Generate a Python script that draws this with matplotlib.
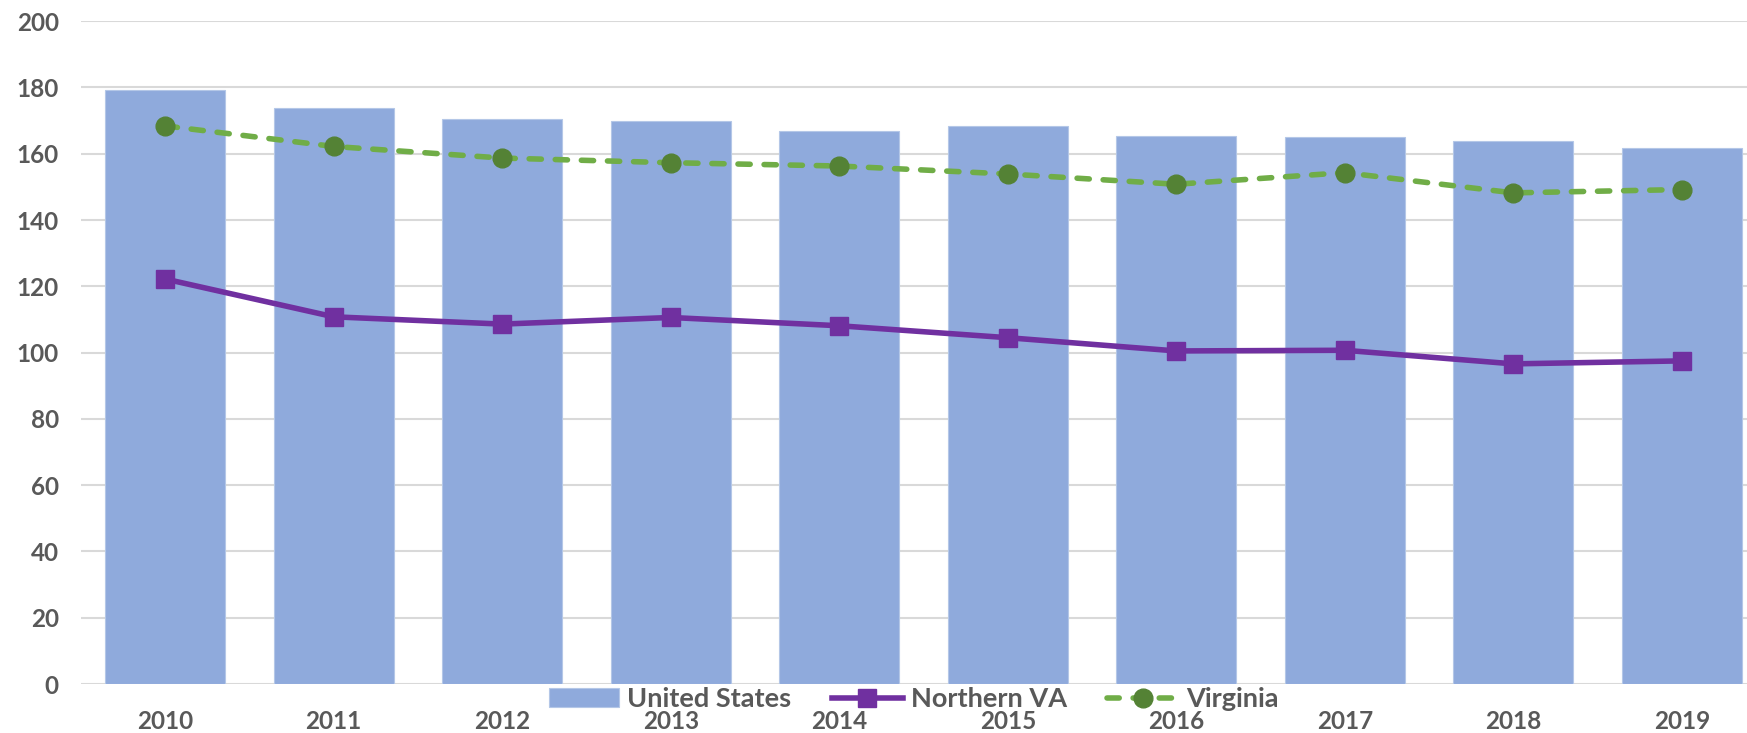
import matplotlib
matplotlib.use("Agg")
import matplotlib.pyplot as plt
import numpy as np

years = ["2010", "2011", "2012", "2013", "2014", "2015", "2016", "2017", "2018", "2019"]
united_states = [179.2, 173.8, 170.6, 169.9, 166.9, 168.4, 165.4, 165.0, 163.7, 161.7]
northern_va = [122.2, 110.8, 108.6, 110.6, 108.1, 104.5, 100.5, 100.7, 96.6, 97.5]
virginia = [168.4, 162.2, 158.7, 157.3, 156.3, 153.9, 150.8, 154.3, 148.2, 149.2]
y_ticks = [0, 20, 40, 60, 80, 100, 120, 140, 160, 180, 200]

FONT = ["Lato", "DejaVu Sans"]
W, H = 1747, 733
fig = plt.figure(figsize=(W / 100, H / 100), dpi=100)
ax = fig.add_axes([81 / W, 1 - 684 / H, (1766 - 81) / W, (684 - 21.2) / H])

x = np.arange(len(years))
bars = ax.bar(x, united_states, width=0.71, color="#8FAADC", edgecolor="#B4C7E7", linewidth=0.8,
              label="United States", zorder=2)
l1, = ax.plot(x, northern_va, color="#7030A0", linewidth=4.0, marker="s", markersize=13.5,
              markerfacecolor="#7030A0", markeredgecolor="#7030A0", label="Northern VA", zorder=3)
l2, = ax.plot(x, virginia, color="#70AD47", linewidth=4.0, linestyle=(0, (2.2, 2.5)),
              dash_capstyle="round", marker="o", markersize=13.5,
              markerfacecolor="#548235", markeredgecolor="#548235", label="Virginia", zorder=3)

ax.set_xlim(-0.5, len(years) - 0.5)
ax.set_ylim(0, 200)
ax.set_yticks(y_ticks)
ax.set_xticks(x)
ax.set_xticklabels(years)
ax.yaxis.grid(True, color="#D9D9D9", linewidth=1.5, zorder=0)
ax.set_axisbelow(True)
for s in ax.spines.values():
    s.set_visible(False)
ax.tick_params(axis="both", length=0)
ax.tick_params(axis="y", pad=16)
ax.tick_params(axis="x", pad=19)
for lab in ax.get_yticklabels() + ax.get_xticklabels():
    lab.set_fontsize(17.5)
    lab.set_fontweight("bold")
    lab.set_family(FONT)
    lab.set_color("#595959")

leg = fig.legend(handles=[bars, l1, l2], labels=["United States", "Northern VA", "Virginia"],
                 loc="center", bbox_to_anchor=(0.523, 1 - 699 / H), ncol=3, frameon=False,
                 prop={"family": FONT, "weight": "bold", "size": 19.5},
                 handlelength=2.6, columnspacing=1.5, handletextpad=0.3)
for t in leg.get_texts():
    t.set_color("#595959")

fig.savefig("out.png", dpi=100)
